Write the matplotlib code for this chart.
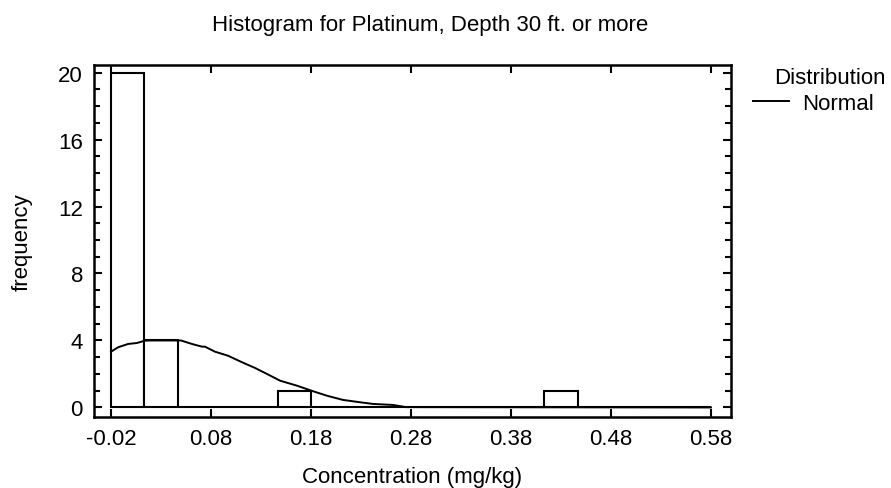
import numpy as np
import matplotlib
matplotlib.use("Agg")
import matplotlib.pyplot as plt
from matplotlib.ticker import MultipleLocator

plt.rcParams['font.family'] = ['Liberation Sans', 'DejaVu Sans']

# histogram: 18 bins over [-0.02, 0.58]
bin_lo = -0.02
bin_hi = 0.58
counts = [20, 4, 0, 0, 0, 1, 0, 0, 0, 0, 0, 0, 0, 1, 0, 0, 0, 0]

# fitted normal curve
curve_x = [-0.02, -0.013, -0.003, 0.006, 0.014, 0.02, 0.05, 0.061, 0.071, 0.074,
           0.084, 0.097, 0.111, 0.124, 0.136, 0.149, 0.166, 0.182, 0.196, 0.212,
           0.229, 0.242, 0.262, 0.275, 0.58]
curve_y = [3.33, 3.59, 3.79, 3.85, 3.99, 4.0, 4.0, 3.79, 3.63, 3.63,
           3.33, 3.09, 2.70, 2.36, 2.0, 1.60, 1.30, 0.97, 0.70, 0.45,
           0.31, 0.21, 0.15, 0.02, 0.0]

x_ticks = [-0.02, 0.08, 0.18, 0.28, 0.38, 0.48, 0.58]
y_ticks = [0, 4, 8, 12, 16, 20]

fs = 16

fig = plt.figure(figsize=(8.91, 4.89), dpi=100)
ax = fig.add_axes([0.1055, 0.1452, 0.7149, 0.7198])

edges = np.linspace(bin_lo, bin_hi, len(counts) + 1)
ax.bar(edges[:-1], counts, width=np.diff(edges), align='edge',
       facecolor='white', edgecolor='black', linewidth=1.5, zorder=2)
line, = ax.plot(curve_x, curve_y, color='black', linewidth=1.4, zorder=3)

ax.set_xlim(-0.037, 0.600)
ax.set_ylim(-0.57, 20.45)
ax.set_xticks(x_ticks)
ax.set_xticklabels(['%.2f' % v for v in x_ticks])
ax.set_yticks(y_ticks)
ax.yaxis.set_minor_locator(MultipleLocator(1))
ax.tick_params(which='both', direction='in', top=True, right=True,
               labelsize=fs, width=1.5)
ax.tick_params(axis='x', pad=8)
ax.tick_params(axis='y', pad=8)
ax.tick_params(which='major', length=6)
ax.tick_params(which='minor', length=4)
for s in ax.spines.values():
    s.set_linewidth(1.8)

ax.set_xlabel('Concentration (mg/kg)', fontsize=fs, labelpad=12)
ax.set_ylabel('frequency', fontsize=fs, labelpad=18)
fig.text(430 / 891, 1 - 25 / 489, 'Histogram for Platinum, Depth 30 ft. or more',
         ha='center', va='center', fontsize=fs)

# legend: title as plain text, entry via legend
fig.text(830 / 891, 1 - 78 / 489, 'Distribution', ha='center', va='center',
         fontsize=fs)
ax.legend([line], ['Normal'], frameon=False, loc='center left',
          bbox_to_anchor=(753 / 891, 1 - 104 / 489),
          bbox_transform=fig.transFigure, fontsize=fs,
          handlelength=1.6, handletextpad=0.6, borderpad=0, borderaxespad=0)

fig.savefig('out.png', dpi=100)
